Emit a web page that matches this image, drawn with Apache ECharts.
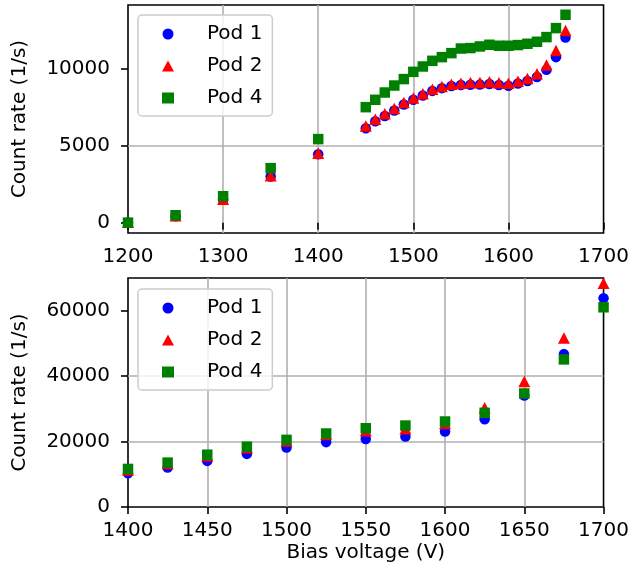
<!DOCTYPE html>
<html>
<head>
<meta charset="utf-8">
<script src="https://cdn.jsdelivr.net/npm/echarts@6/dist/echarts.min.js"></script>
<style>
  html, body { margin: 0; padding: 0; background: #fff; }
  #chart { width: 632px; height: 580px; }
</style>
</head>
<body>
<div id="chart"></div>
<script>
// top panel: coarse scan then 10 V steps
var topVoltage = [1200, 1250, 1300, 1350, 1400, 1450, 1460, 1470, 1480, 1490, 1500, 1510, 1520, 1530,
  1540, 1550, 1560, 1570, 1580, 1590, 1600, 1610, 1620, 1630, 1640, 1650, 1660]
var topPod1 = [10, 420, 1500, 3000, 4450, 6150, 6600, 6950, 7300, 7700, 8000, 8280, 8580, 8760,
  8900, 8960, 8980, 8990, 9030, 8970, 8910, 9060, 9230, 9480, 9950, 10780, 12060]
var topPod2 = [20, 450, 1520, 3050, 4520, 6300, 6740, 7085, 7430, 7820, 8110, 8390, 8695, 8865,
  9020, 9085, 9130, 9130, 9170, 9105, 9085, 9215, 9390, 9690, 10260, 11215, 12520]
var topPod4 = [0, 480, 1720, 3550, 5440, 7520, 8000, 8475, 8930, 9350, 9820, 10170, 10540, 10780,
  11040, 11340, 11370, 11475, 11585, 11520, 11520, 11565, 11650, 11780, 12085, 12670, 13540]

// bottom panel: 25 V steps
var botVoltage = [1400, 1425, 1450, 1475, 1500, 1525, 1550, 1575, 1600, 1625, 1650, 1675, 1700]
var botPod1 = [10310, 12040, 14090, 16230, 18160, 19820, 20800, 21530, 23060, 26830, 34090, 46740, 63800]
var botPod2 = [11300, 13300, 15700, 18100, 20200, 22150, 23300, 23890, 25500, 30320, 38380, 51640, 68400]
var botPod4 = [11630, 13560, 15980, 18430, 20520, 22460, 24080, 24900, 26130, 28790, 34700, 45120, 61050]

var topYTicks = [0, 5000, 10000]
var botYTicks = [0, 20000, 40000, 60000]
var podNames = ['Pod 1', 'Pod 2', 'Pod 4']

var font = 'DejaVu Sans'

var zip = function (xs, ys) {
  return xs.map(function (x, i) { return [x, ys[i]] })
}

// plain numbers, no thousands separators
var plain = function (val) {
  return String(val)
}

var xAxisOpt = function (gridIndex, min, max, interval, name) {
  return {
    type: 'value',
    gridIndex: gridIndex,
    min: min,
    max: max,
    interval: interval,
    name: name,
    nameLocation: 'middle',
    nameGap: 36,
    nameTextStyle: { fontFamily: font, fontSize: 20, color: '#000' },
    axisLine: { show: false },
    axisTick: { show: true, length: 7, lineStyle: { color: '#000', width: 1.6 } },
    axisLabel: { margin: 14, formatter: plain, fontFamily: font, fontSize: 20, color: '#000' },
    splitLine: { show: true, showMinLine: false, showMaxLine: false, lineStyle: { color: '#b0b0b0', width: 1.6 } }
  }
}

var yAxisOpt = function (gridIndex, min, max, step, ticks) {
  return {
    type: 'value',
    gridIndex: gridIndex,
    min: min,
    max: max,
    minInterval: step,
    maxInterval: step,
    name: 'Count rate (1/s)',
    nameLocation: 'middle',
    nameGap: 98,
    nameTextStyle: { fontFamily: font, fontSize: 20, color: '#000' },
    axisLine: { show: false },
    axisTick: { show: true, length: 7, customValues: ticks, lineStyle: { color: '#000', width: 1.6 } },
    axisLabel: { margin: 18, customValues: ticks, formatter: plain, fontFamily: font, fontSize: 20, color: '#000' },
    splitLine: { show: true, showMinLine: false, showMaxLine: false, lineStyle: { color: '#b0b0b0', width: 1.6 } }
  }
}

var legendOpt = function (top) {
  return {
    left: 138,
    top: top,
    orient: 'vertical',
    data: podNames,
    padding: [9, 10, 8, 24],
    itemGap: 12,
    itemWidth: 12,
    itemHeight: 11,
    backgroundColor: 'rgba(255,255,255,0.8)',
    borderColor: '#cccccc',
    borderWidth: 1.5,
    borderRadius: 4,
    selectedMode: false,
    textStyle: { fontFamily: font, fontSize: 20, color: '#000', lineHeight: 20, padding: [0, 0, 0, 28] }
  }
}

var scatter = function (name, idx, data, symbol, size, color) {
  return {
    name: name,
    type: 'scatter',
    xAxisIndex: idx,
    yAxisIndex: idx,
    data: data,
    symbol: symbol,
    symbolSize: size,
    clip: true,
    itemStyle: { color: color, opacity: 1 },
    emphasis: { disabled: true }
  }
}

var chart = echarts.init(document.getElementById('chart'), null, { renderer: 'canvas' })
chart.setOption({
  animation: false,
  backgroundColor: '#fff',
  grid: [
    { left: 128, top: 5, width: 476, height: 228, show: true, borderColor: '#000', borderWidth: 1.6, backgroundColor: 'transparent' },
    { left: 128, top: 278, width: 476, height: 229, show: true, borderColor: '#000', borderWidth: 1.6, backgroundColor: 'transparent' }
  ],
  legend: [legendOpt(15), legendOpt(289)],
  xAxis: [
    xAxisOpt(0, 1200, 1700, 100, ''),
    xAxisOpt(1, 1400, 1700, 50, 'Bias voltage (V)')
  ],
  yAxis: [
    yAxisOpt(0, -675, 14175, 5000, topYTicks),
    yAxisOpt(1, 0, 70000, 20000, botYTicks)
  ],
  series: [
    scatter('Pod 1', 0, zip(topVoltage, topPod1), 'circle', 10.5, '#0000ff'),
    scatter('Pod 2', 0, zip(topVoltage, topPod2), 'triangle', [12, 11.5], '#ff0000'),
    scatter('Pod 4', 0, zip(topVoltage, topPod4), 'rect', 10.5, '#008000'),
    scatter('Pod 1', 1, zip(botVoltage, botPod1), 'circle', 10.5, '#0000ff'),
    scatter('Pod 2', 1, zip(botVoltage, botPod2), 'triangle', [12, 11.5], '#ff0000'),
    scatter('Pod 4', 1, zip(botVoltage, botPod4), 'rect', 10.5, '#008000')
  ]
})
</script>
</body>
</html>
